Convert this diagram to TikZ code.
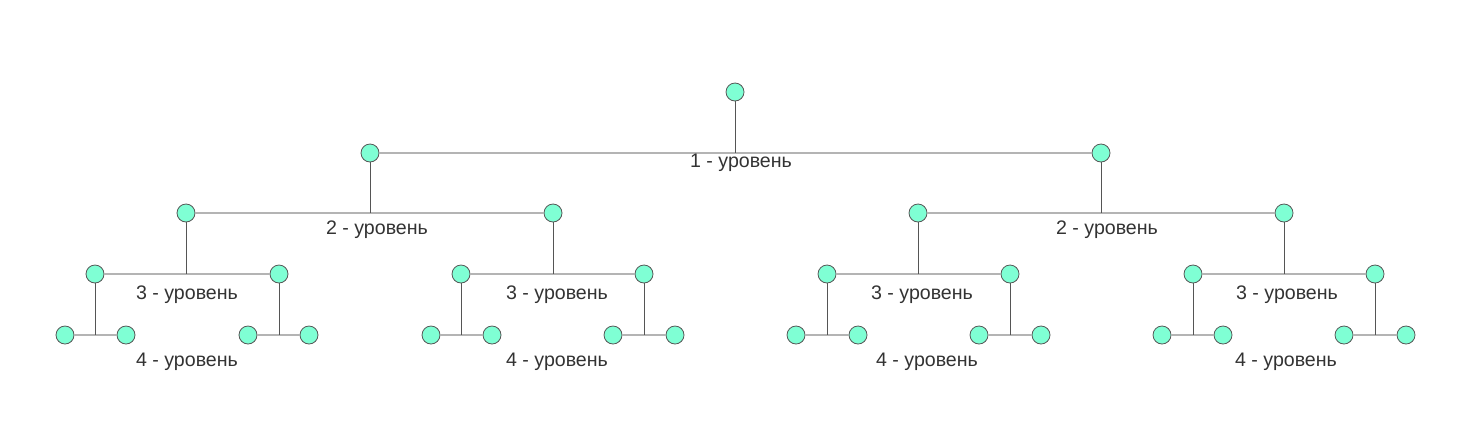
\documentclass[tikz,border=0pt]{standalone}
\usepackage{fontspec}
\setmainfont{Liberation Sans}
\usepackage{xcolor}
\usetikzlibrary{positioning}

\definecolor{nodefill}{HTML}{7FFFD4}
\definecolor{edgedark}{HTML}{555555}
\definecolor{edgelight}{HTML}{B4B4B4}
\definecolor{textgrey}{HTML}{333333}

\begin{document}
\begin{tikzpicture}[x=1pt, y=-1pt,
    main/.style = {draw=edgedark, fill=nodefill, circle, minimum size=18pt, inner sep=0pt, line width=0.8pt},
    hline/.style = {draw=edgelight, line width=1.4pt},
    vline/.style = {draw=edgedark, line width=1pt},
    lvl/.style = {text=textgrey, font=\fontsize{19.6}{22}\selectfont, inner sep=0pt}]
		\useasboundingbox (0,0) rectangle (1463,440);
		
		\node[main] (r) at (735,92) {};
		\node[main] (a) at (370,153) {};
		\node[main] (b) at (1101,153) {};
		
		\node[main] (aa) at (186,213) {};
		\node[main] (ab) at (553,213) {};
		\node[main] (ba) at (918,213) {};
		\node[main] (bb) at (1284,213) {};
		
		\node[main] (aa1) at (95,274) {};
		\node[main] (aa2) at (279,274) {};
		\node[main] (ab1) at (461,274) {};
		\node[main] (ab2) at (644,274) {};
		\node[main] (ba1) at (827,274) {};
		\node[main] (ba2) at (1010,274) {};
		\node[main] (bb1) at (1193,274) {};
		\node[main] (bb2) at (1375,274) {};
		
		\node[main] (aa1l) at (65,335) {};
		\node[main] (aa1r) at (126,335) {};
		\node[main] (aa2l) at (248,335) {};
		\node[main] (aa2r) at (309,335) {};
		\node[main] (ab1l) at (431,335) {};
		\node[main] (ab1r) at (492,335) {};
		\node[main] (ab2l) at (613,335) {};
		\node[main] (ab2r) at (675,335) {};
		\node[main] (ba1l) at (796,335) {};
		\node[main] (ba1r) at (858,335) {};
		\node[main] (ba2l) at (979,335) {};
		\node[main] (ba2r) at (1041,335) {};
		\node[main] (bb1l) at (1162,335) {};
		\node[main] (bb1r) at (1223,335) {};
		\node[main] (bb2l) at (1344,335) {};
		\node[main] (bb2r) at (1406,335) {};
		
		% horizontal links
		\begin{scope}[hline]
			\draw (a) -- (b);
			\draw (aa) -- (ab);
			\draw (ba) -- (bb);
			\draw (aa1) -- (aa2);
			\draw (ab1) -- (ab2);
			\draw (ba1) -- (ba2);
			\draw (bb1) -- (bb2);
			\draw (aa1l) -- (aa1r);
			\draw (aa2l) -- (aa2r);
			\draw (ab1l) -- (ab1r);
			\draw (ab2l) -- (ab2r);
			\draw (ba1l) -- (ba1r);
			\draw (ba2l) -- (ba2r);
			\draw (bb1l) -- (bb1r);
			\draw (bb2l) -- (bb2r);
		\end{scope}
		
		% vertical links
		\begin{scope}[vline]
			\draw (r) -- (r |- a);
			\draw (a) -- (a |- aa);
			\draw (b) -- (b |- ba);
			\draw (aa) -- (aa |- aa1);
			\draw (ab) -- (ab |- ab1);
			\draw (ba) -- (ba |- ba1);
			\draw (bb) -- (bb |- bb1);
			\draw (aa1) -- (aa1 |- aa1l);
			\draw (aa2) -- (aa2 |- aa2l);
			\draw (ab1) -- (ab1 |- ab1l);
			\draw (ab2) -- (ab2 |- ab2l);
			\draw (ba1) -- (ba1 |- ba1l);
			\draw (ba2) -- (ba2 |- ba2l);
			\draw (bb1) -- (bb1 |- bb1l);
			\draw (bb2) -- (bb2 |- bb2l);
		\end{scope}
		
		\node[lvl] (t1) at (741,163) {1 - уровень};
		\node[lvl] (t2a) at (377,230) {2 - уровень};
		\node[lvl] (t2b) at (1107,230) {2 - уровень};
		\node[lvl] (t3aa) at (187,295) {3 - уровень};
		\node[lvl] (t3ab) at (557,295) {3 - уровень};
		\node[lvl] (t3ba) at (922,295) {3 - уровень};
		\node[lvl] (t3bb) at (1287,295) {3 - уровень};
		\node[lvl] (t4aa) at (187,362) {4 - уровень};
		\node[lvl] (t4ab) at (557,362) {4 - уровень};
		\node[lvl] (t4ba) at (927,362) {4 - уровень};
		\node[lvl] (t4bb) at (1286,362) {4 - уровень};
	\end{tikzpicture}
\end{document}
